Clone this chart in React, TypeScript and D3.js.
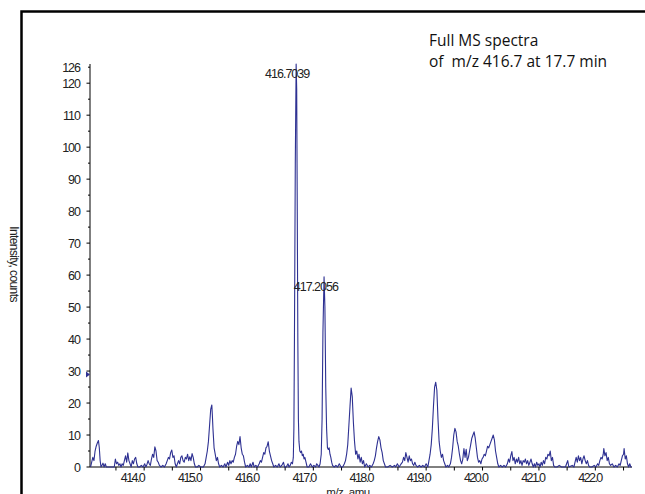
import * as d3 from 'd3';

// m/z, intensity pairs
const spectrum: [number, number][] = [
  [413.05, 0], [413.07, 1.5], [413.09, 3], [413.11, 2], [413.13, 5], [413.15, 6.5], [413.17, 7.5], [413.19, 8.3],
  [413.205, 6], [413.22, 2], [413.235, 0], [413.25, 0.5], [413.27, 1.2], [413.29, 0], [413.31, 1], [413.33, 0],
  [413.47, 0], [413.49, 2.5], [413.51, 1], [413.53, 1.5], [413.55, 0.5], [413.57, 1], [413.59, 0], [413.61, 1],
  [413.63, 0.5], [413.65, 2], [413.67, 3.5], [413.69, 1.5], [413.71, 4.4], [413.73, 2], [413.75, 1], [413.77, 0],
  [413.79, 2], [413.81, 1], [413.83, 2.5], [413.85, 3], [413.87, 1], [413.89, 0], [413.92, 0], [413.95, 0.5],
  [413.98, 0], [414.01, 1], [414.03, 0], [414.05, 0.8], [414.07, 2], [414.09, 1], [414.11, 0.5], [414.13, 2.5],
  [414.15, 4], [414.17, 3], [414.19, 6.3], [414.21, 5], [414.23, 2], [414.25, 1.5], [414.27, 0.5], [414.3, 0],
  [414.33, 0.5], [414.36, 0], [414.39, 1], [414.41, 2], [414.43, 3], [414.45, 2.5], [414.47, 4.5], [414.49, 5.3],
  [414.51, 3], [414.53, 3.5], [414.55, 1], [414.57, 0], [414.59, 1], [414.61, 2], [414.63, 1], [414.65, 3],
  [414.67, 3.5], [414.69, 2], [414.71, 1.5], [414.73, 3], [414.75, 2.5], [414.77, 4], [414.79, 2], [414.81, 3.2],
  [414.83, 2], [414.85, 4.2], [414.87, 3], [414.89, 1], [414.91, 0], [414.94, 0], [414.97, 0.5], [415.0, 0],
  [415.05, 0], [415.08, 1], [415.1, 3], [415.12, 5], [415.14, 8], [415.16, 13], [415.18, 18], [415.2, 19.4],
  [415.21, 16], [415.22, 12], [415.24, 6], [415.26, 4], [415.28, 2], [415.3, 3], [415.32, 1], [415.34, 0],
  [415.37, 0.5], [415.4, 0], [415.43, 1], [415.45, 0], [415.48, 1.5], [415.5, 0.5], [415.52, 2], [415.54, 1],
  [415.56, 2], [415.58, 1.5], [415.6, 3], [415.62, 4], [415.64, 6.5], [415.66, 8], [415.68, 7], [415.7, 9.5],
  [415.72, 6], [415.74, 4], [415.76, 3.5], [415.78, 1.5], [415.8, 0], [415.83, 0.5], [415.86, 0], [415.88, 1],
  [415.9, 0], [415.93, 1.5], [415.95, 0], [415.98, 0.5], [416.01, 0], [416.04, 1], [416.06, 2], [416.08, 1.5],
  [416.1, 3], [416.12, 4.5], [416.14, 4], [416.16, 6], [416.18, 6.5], [416.2, 7.9], [416.22, 5], [416.24, 3.5],
  [416.26, 2], [416.28, 1], [416.3, 0], [416.33, 0.5], [416.36, 0], [416.39, 1], [416.41, 0], [416.44, 0.5],
  [416.47, 1.5], [416.49, 0], [416.52, 0], [416.55, 1], [416.57, 0], [416.59, 0.5], [416.61, 1.5], [416.63, 1],
  [416.645, 3], [416.655, 12], [416.665, 40], [416.68, 95], [416.695, 126], [416.705, 118], [416.715, 80],
  [416.725, 40], [416.735, 15], [416.745, 8], [416.76, 5], [416.775, 4.5], [416.79, 5], [416.805, 3.5],
  [416.82, 4], [416.835, 2.5], [416.85, 3], [416.87, 1.5], [416.89, 0], [416.92, 0], [416.95, 1], [416.98, 0],
  [417.01, 0.5], [417.04, 0], [417.06, 1], [417.08, 0.5], [417.1, 0], [417.12, 1], [417.14, 4], [417.155, 15],
  [417.17, 42], [417.19, 59.5], [417.205, 50], [417.22, 25], [417.235, 12], [417.25, 6], [417.265, 5.5],
  [417.28, 6], [417.295, 4], [417.31, 3], [417.325, 1.5], [417.34, 0.5], [417.37, 0], [417.4, 0.5], [417.43, 0],
  [417.46, 1], [417.49, 0], [417.52, 0], [417.55, 1], [417.57, 2], [417.59, 4], [417.61, 7], [417.63, 13],
  [417.65, 19], [417.67, 24.7], [417.69, 22], [417.71, 14], [417.73, 8], [417.75, 4], [417.77, 5], [417.79, 2.5],
  [417.81, 4], [417.83, 1.5], [417.85, 3], [417.87, 1], [417.89, 2], [417.91, 0], [417.94, 1], [417.97, 0],
  [418.0, 0.5], [418.03, 0], [418.06, 1], [418.08, 2], [418.1, 3.5], [418.12, 6], [418.14, 8], [418.16, 9.5],
  [418.18, 8.5], [418.2, 6], [418.22, 4.5], [418.24, 2], [418.26, 1], [418.28, 0], [418.32, 0], [418.36, 0.5],
  [418.4, 0], [418.44, 0.5], [418.46, 0], [418.49, 1], [418.52, 0], [418.55, 0.8], [418.58, 1.5], [418.6, 3],
  [418.62, 2], [418.64, 4.5], [418.66, 3], [418.68, 1.5], [418.7, 3.5], [418.72, 2], [418.74, 2.5], [418.76, 1],
  [418.78, 0.5], [418.8, 1.5], [418.82, 0.5], [418.85, 0], [418.88, 0.5], [418.91, 0], [418.94, 0.5], [418.97, 0],
  [419.0, 1], [419.03, 0], [419.05, 2], [419.07, 4], [419.09, 7], [419.11, 12], [419.13, 19], [419.15, 25],
  [419.17, 26.5], [419.19, 24], [419.21, 15], [419.23, 8], [419.25, 5], [419.27, 3], [419.29, 4], [419.31, 2],
  [419.33, 1], [419.35, 0], [419.38, 0.5], [419.4, 0], [419.43, 1], [419.45, 3], [419.47, 6], [419.49, 10],
  [419.51, 12.1], [419.53, 11], [419.55, 8], [419.57, 6.5], [419.59, 4], [419.61, 2], [419.63, 1], [419.65, 2.5],
  [419.67, 5.8], [419.69, 3], [419.71, 5.5], [419.73, 2], [419.75, 3], [419.77, 5], [419.79, 7], [419.81, 9],
  [419.83, 10], [419.85, 11], [419.87, 9], [419.89, 6], [419.91, 3], [419.93, 1.5], [419.95, 2], [419.97, 1],
  [419.99, 2.5], [420.01, 3], [420.03, 4], [420.05, 3.5], [420.07, 5], [420.09, 6.5], [420.11, 6], [420.13, 7],
  [420.15, 8], [420.17, 9], [420.19, 10], [420.21, 8.5], [420.23, 5], [420.25, 3], [420.27, 1], [420.29, 0],
  [420.32, 0.5], [420.35, 0], [420.38, 0.5], [420.41, 0], [420.44, 1], [420.46, 2.5], [420.48, 1.5], [420.5, 3.5],
  [420.52, 4.8], [420.54, 2], [420.56, 3], [420.58, 1], [420.6, 2.5], [420.62, 1.5], [420.64, 3], [420.66, 1],
  [420.68, 2], [420.7, 0.5], [420.72, 2], [420.74, 1.5], [420.76, 2.5], [420.78, 1], [420.8, 2], [420.82, 0.5],
  [420.84, 1.5], [420.86, 2.5], [420.88, 1], [420.9, 0], [420.92, 1], [420.94, 0], [420.96, 1.5], [420.98, 0.5],
  [421.0, 1], [421.02, 0], [421.04, 1.5], [421.06, 0.5], [421.08, 2], [421.1, 1], [421.12, 3], [421.14, 2.5],
  [421.16, 4], [421.18, 3.5], [421.2, 5], [421.22, 2], [421.24, 3], [421.26, 0.5], [421.28, 0], [421.32, 0],
  [421.36, 0.5], [421.4, 0], [421.47, 0], [421.49, 1], [421.51, 2], [421.53, 0], [421.59, 0.5], [421.62, 0],
  [421.64, 1.5], [421.66, 3], [421.68, 1.5], [421.7, 3.5], [421.72, 2], [421.74, 3], [421.76, 1], [421.78, 2.5],
  [421.8, 3.5], [421.82, 2], [421.84, 1], [421.86, 2], [421.88, 0.5], [421.9, 0], [421.94, 0], [421.98, 0.5],
  [422.01, 0], [422.04, 1], [422.06, 0.5], [422.08, 2], [422.1, 3], [422.12, 2.5], [422.14, 4], [422.15, 5.8],
  [422.17, 3.5], [422.19, 4.5], [422.21, 2], [422.23, 3], [422.25, 1], [422.27, 0.5], [422.3, 1], [422.33, 0],
  [422.36, 0.5], [422.39, 0], [422.42, 1], [422.44, 0.5], [422.46, 2], [422.48, 3.5], [422.5, 4], [422.51, 5.8],
  [422.53, 2.5], [422.55, 3.5], [422.57, 1], [422.59, 0], [422.61, 1], [422.63, 0], [422.645, 0],
];

const xTickValues = [414, 415, 416, 417, 418, 419, 420, 421, 422];
const xMinorValues = [413.5, 414.5, 415.5, 416.5, 417.5, 418.5, 419.5, 420.5, 421.5, 422.5];
const yTickValues = [0, 10, 20, 30, 40, 50, 60, 70, 80, 90, 100, 110, 120];
const yMinorValues = [5, 15, 25, 35, 45, 55, 65, 75, 85, 95, 105, 115, 125];
const yTopLabel = 126;
const peakLabels = [
  { mz: 416.7039, intensity: 126, text: '416.7039' },
  { mz: 417.2056, intensity: 59.5, text: '417.2056' },
];
const titleLines = ['Full MS spectra', 'of  m/z 416.7 at 17.7 min'];

const W = 645;
const H = 494;
const lineColor = '#2e3192';
const numFont = '"Liberation Sans", Arial, sans-serif';

export default function App() {
  const x = d3.scaleLinear().domain([413.04, 422.65]).range([90, 632]);
  // tick labels in the source sit slightly left of their ticks
  const xLabel = d3.scaleLinear().domain([414, 422]).range([132.5, 590]);
  const y = d3.scaleLinear().domain([0, 126]).range([467, 64]);

  const line = d3
    .line<[number, number]>()
    .x((d) => x(d[0]))
    .y((d) => y(d[1]));

  return (
    <svg
      width={W}
      height={H}
      style={{ position: 'absolute', left: 0, top: 0, background: '#fff' }}
    >
      <rect x={0} y={0} width={W} height={H} fill="#fff" />
      {/* outer frame, cropped at right and bottom */}
      <rect x={21.5} y={11.5} width={700} height={600} fill="none" stroke="#000" strokeWidth={2.5} />

      {/* title */}
      <g fontFamily='"Open Sans", sans-serif' fontSize={15.5} fill="#111">
        {titleLines.map((t, i) => (
          <text key={i} x={429} y={46 + i * 21} style={{ whiteSpace: 'pre' }}>
            {t}
          </text>
        ))}
      </g>

      {/* y axis */}
      <line x1={90} x2={90} y1={y(126)} y2={y(0)} stroke="#000" strokeWidth={1} />
      {yTickValues.map((v) => (
        <g key={v}>
          <line x1={86.5} x2={90} y1={y(v)} y2={y(v)} stroke="#000" />
          <text
            x={80}
            y={y(v)}
            dy="0.36em"
            textAnchor="end"
            fontFamily={numFont}
            fontSize={12.5}
            letterSpacing={-1}
            fill="#222"
          >
            {v}
          </text>
        </g>
      ))}
      {yMinorValues.map((v) => (
        <line key={v} x1={88} x2={90} y1={y(v)} y2={y(v)} stroke="#000" />
      ))}
      <text
        x={80}
        y={y(yTopLabel) + 3}
        dy="0.36em"
        textAnchor="end"
        fontFamily={numFont}
        fontSize={12.5}
        letterSpacing={-1}
        fill="#222"
      >
        {yTopLabel}
      </text>
      <path d="M86,371.5 L90,374.5 L86,377.5 Z" fill={lineColor} />

      {/* x axis */}
      <line x1={90} x2={632} y1={y(0)} y2={y(0)} stroke="#000" strokeWidth={1} />
      {[...xTickValues, ...xMinorValues].map((v) => (
        <line key={v} x1={x(v)} x2={x(v)} y1={y(0)} y2={y(0) + 3.5} stroke="#000" />
      ))}
      {xTickValues.map((v) => (
        <text
          key={v}
          x={xLabel(v)}
          y={482}
          textAnchor="middle"
          fontFamily={numFont}
          fontSize={12.5}
          letterSpacing={-1.6}
          fill="#222"
        >
          {v.toFixed(1)}
        </text>
      ))}

      {/* axis titles (the source crops the x title at the bottom edge) */}
      <text
        x={348}
        y={495.5}
        textAnchor="middle"
        fontFamily={numFont}
        fontSize={11.5}
        letterSpacing={-0.5}
        fill="#222"
      >
        m/z, amu
      </text>
      <text
        transform="translate(10,264) rotate(90)"
        textAnchor="middle"
        fontFamily={numFont}
        fontSize={12}
        letterSpacing={-0.6}
        fill="#222"
      >
        Intensity, counts
      </text>

      {/* spectrum */}
      <path d={line(spectrum) ?? ''} fill="none" stroke={lineColor} strokeWidth={1.1} strokeLinejoin="round" />

      {/* peak labels */}
      {peakLabels.map((p) => (
        <text
          key={p.text}
          x={xLabel(p.mz)}
          y={y(p.intensity) + 14}
          textAnchor="middle"
          fontFamily={numFont}
          fontSize={12.5}
          letterSpacing={-1}
          fill="#222"
        >
          {p.text}
        </text>
      ))}
    </svg>
  );
}
